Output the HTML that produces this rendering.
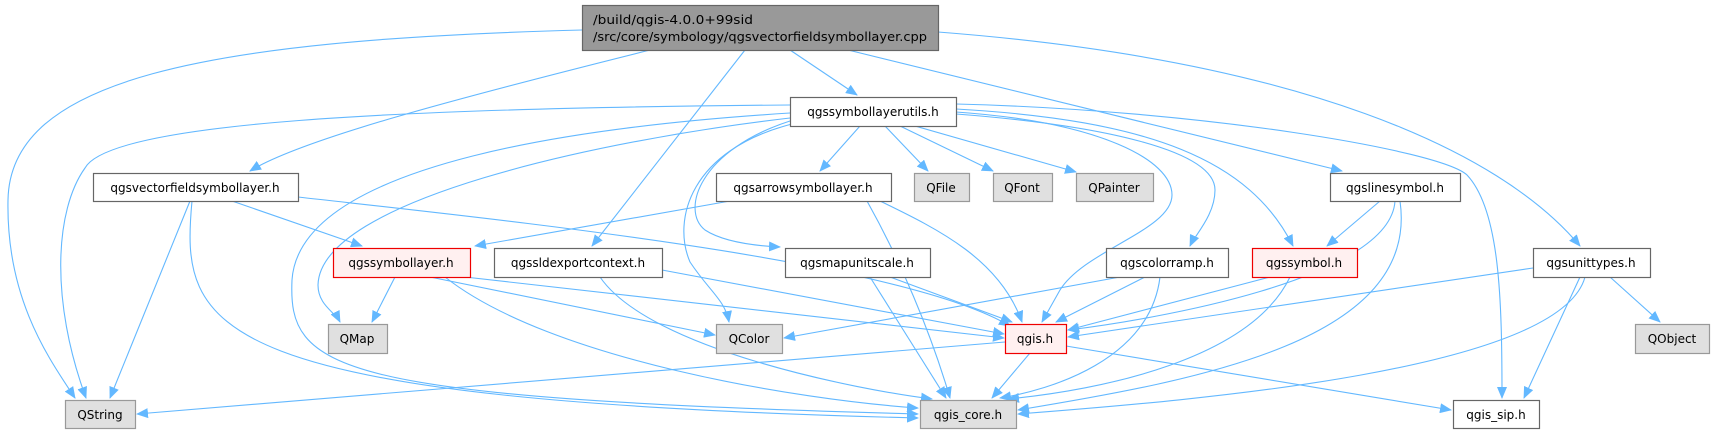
<!DOCTYPE html>
<html><head><meta charset="utf-8"><style>
html,body{margin:0;padding:0;background:#fff;}
svg{display:block}
text{font-family:"DejaVu Sans","Liberation Sans",sans-serif;font-size:12px;fill:#000}
.e{fill:none;stroke:#63b8ff;stroke-width:1.1}
</style></head><body>
<svg width="1714" height="434" viewBox="0 0 1714 434" xmlns="http://www.w3.org/2000/svg">
<defs>
<marker id="a" markerWidth="12" markerHeight="10" refX="11" refY="5" orient="auto" markerUnits="userSpaceOnUse">
<path d="M0,0 L12,5 L0,10 z" fill="#63b8ff"/></marker>
</defs>
<g marker-end="url(#a)">
<path class="e" d="M582,30 C200,40 10,80 8,200 C6,300 50,360 75,398"/>
<path class="e" d="M650,50 C450,100 300,140 250,171"/>
<path class="e" d="M745,50 L592,246"/>
<path class="e" d="M790,50 L857,95"/>
<path class="e" d="M848,50 L1342,171"/>
<path class="e" d="M938,32 C1300,60 1500,150 1580,246"/>

<path class="e" d="M790,105 C400,108 110,122 85,168 C55,210 50,300 86,398"/>
<path class="e" d="M790,113 C600,125 300,160 292,280 C288,370 330,398 918,414"/>
<path class="e" d="M790,118 C600,140 320,200 318,285 C318,305 335,312 340,322"/>
<path class="e" d="M790,121 C700,150 680,210 705,230 C725,243 760,246 780,247"/>
<path class="e" d="M792,124 C690,150 672,220 690,262 C710,292 725,300 729,322"/>
<path class="e" d="M860,126 L820,171"/>
<path class="e" d="M885,126 L928,171"/>
<path class="e" d="M900,126 L993,171"/>
<path class="e" d="M915,126 L1076,172"/>
<path class="e" d="M956,112 C1100,122 1172,160 1172,195 C1172,230 1085,250 1060,290 L1042,322"/>
<path class="e" d="M956,114 C1100,125 1215,150 1215,190 C1215,215 1195,235 1190,246"/>
<path class="e" d="M956,109 C1150,120 1250,160 1293,246"/>
<path class="e" d="M956,104 C1200,110 1440,150 1467,175 C1500,210 1502,300 1502,398"/>

<path class="e" d="M190,201 L110,398"/>
<path class="e" d="M192,201 C180,330 200,400 918,418"/>
<path class="e" d="M232,201 L362,246"/>
<path class="e" d="M298,197 C500,220 900,260 1010,326"/>
<path class="e" d="M730,201 L475,246"/>
<path class="e" d="M867,201 C900,260 930,330 950,398"/>
<path class="e" d="M880,201 C940,230 1000,260 1022,322"/>
<path class="e" d="M1380,201 L1327,246"/>
<path class="e" d="M1395,201 C1390,280 1150,320 1068,330"/>
<path class="e" d="M1400,201 C1420,340 1200,380 1018,410"/>

<path class="e" d="M395,277 L372,322"/>
<path class="e" d="M430,277 L715,335"/>
<path class="e" d="M465,277 L1004,338"/>
<path class="e" d="M445,277 C550,360 800,400 918,408"/>
<path class="e" d="M662,270 L1004,334"/>
<path class="e" d="M600,277 C650,350 860,390 932,399"/>
<path class="e" d="M890,277 L1012,322"/>
<path class="e" d="M870,277 L946,398"/>
<path class="e" d="M1120,277 L784,338"/>
<path class="e" d="M1145,277 L1056,322"/>
<path class="e" d="M1160,277 C1150,360 1050,390 1000,398"/>
<path class="e" d="M1270,277 L1068,330"/>
<path class="e" d="M1290,277 C1250,360 1100,390 1008,399"/>
<path class="e" d="M1533,268 L1068,337"/>
<path class="e" d="M1585,277 C1560,370 1200,400 1018,414"/>
<path class="e" d="M1580,277 L1524,398"/>
<path class="e" d="M1610,277 L1660,322"/>
<path class="e" d="M1005,342 L137,414"/>
<path class="e" d="M1030,353 L992,398"/>
<path class="e" d="M1066,346 L1451,410"/>
</g>

<g stroke-width="1.2">
<rect x="582.5" y="5.5" width="356" height="45" fill="#999" stroke="#666"/>
<rect x="790.5" y="97.5" width="166" height="29" fill="#fff" stroke="#666"/>
<rect x="93.5" y="173.5" width="205" height="28" fill="#fff" stroke="#666"/>
<rect x="716.5" y="173.5" width="175" height="28" fill="#fff" stroke="#666"/>
<rect x="914.5" y="173.5" width="55" height="28" fill="#e0e0e0" stroke="#999"/>
<rect x="993.5" y="173.5" width="59" height="28" fill="#e0e0e0" stroke="#999"/>
<rect x="1076.5" y="173.5" width="77" height="28" fill="#e0e0e0" stroke="#999"/>
<rect x="1330.5" y="173.5" width="130" height="28" fill="#fff" stroke="#666"/>
<rect x="333.5" y="248.5" width="137" height="29" fill="#fff0f0" stroke="#e00"/>
<rect x="494.5" y="248.5" width="168" height="29" fill="#fff" stroke="#666"/>
<rect x="785.5" y="248.5" width="145" height="29" fill="#fff" stroke="#666"/>
<rect x="1106.5" y="248.5" width="122" height="29" fill="#fff" stroke="#666"/>
<rect x="1252.5" y="248.5" width="105" height="29" fill="#fff0f0" stroke="#e00"/>
<rect x="1533.5" y="248.5" width="117" height="29" fill="#fff" stroke="#666"/>
<rect x="328.5" y="324.5" width="59" height="29" fill="#e0e0e0" stroke="#999"/>
<rect x="716.5" y="324.5" width="66" height="29" fill="#e0e0e0" stroke="#999"/>
<rect x="1005.5" y="324.5" width="61" height="29" fill="#fff0f0" stroke="#e00"/>
<rect x="1635.5" y="324.5" width="74" height="29" fill="#e0e0e0" stroke="#999"/>
<rect x="65.5" y="400.5" width="70" height="28" fill="#e0e0e0" stroke="#999"/>
<rect x="920.5" y="400.5" width="96" height="28" fill="#e0e0e0" stroke="#999"/>
<rect x="1453.5" y="400.5" width="86" height="28" fill="#fff" stroke="#666"/>
</g>

<g>
<text x="593" y="24" textLength="160" lengthAdjust="spacingAndGlyphs">/build/qgis-4.0.0+99sid</text>
<text x="593" y="41" textLength="334" lengthAdjust="spacingAndGlyphs">/src/core/symbology/qgsvectorfieldsymbollayer.cpp</text>
<text x="873" y="116" text-anchor="middle">qgssymbollayerutils.h</text>
<text x="195" y="192" text-anchor="middle">qgsvectorfieldsymbollayer.h</text>
<text x="803" y="192" text-anchor="middle">qgsarrowsymbollayer.h</text>
<text x="941" y="192" text-anchor="middle">QFile</text>
<text x="1022" y="192" text-anchor="middle">QFont</text>
<text x="1114" y="192" text-anchor="middle">QPainter</text>
<text x="1395" y="192" text-anchor="middle">qgslinesymbol.h</text>
<text x="401" y="267" text-anchor="middle">qgssymbollayer.h</text>
<text x="578" y="267" text-anchor="middle">qgssldexportcontext.h</text>
<text x="857" y="267" text-anchor="middle">qgsmapunitscale.h</text>
<text x="1167" y="267" text-anchor="middle">qgscolorramp.h</text>
<text x="1304" y="267" text-anchor="middle">qgssymbol.h</text>
<text x="1591" y="267" text-anchor="middle">qgsunittypes.h</text>
<text x="357" y="343" text-anchor="middle">QMap</text>
<text x="749" y="343" text-anchor="middle">QColor</text>
<text x="1035" y="343" text-anchor="middle">qgis.h</text>
<text x="1672" y="343" text-anchor="middle">QObject</text>
<text x="100" y="419" text-anchor="middle">QString</text>
<text x="968" y="419" text-anchor="middle">qgis_core.h</text>
<text x="1496" y="419" text-anchor="middle">qgis_sip.h</text>
</g>
</svg>
</body></html>
